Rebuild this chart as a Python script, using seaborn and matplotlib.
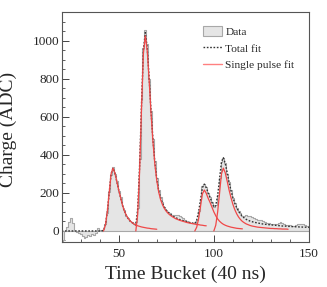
import numpy as np
import pandas as pd
import seaborn as sns
import matplotlib.pyplot as plt
from matplotlib.patches import Patch
from matplotlib.lines import Line2D
from matplotlib.ticker import MultipleLocator

# time buckets 20..150
buckets = list(range(20, 151))

charge = [
    -60, -45, 0, 20, 45, 67, 40, 0, -5, -10,            # 20-29
    -15, -25, -35, -30, -20, -25, -15, -20, -10, 15,     # 30-39
    5, 0, 8, 35, 95, 205, 295, 335, 300, 265,            # 40-49
    210, 178, 130, 108, 80, 68, 50, 46, 35, 45,          # 50-59
    120, 380, 690, 960, 1055, 980, 800, 630, 485, 370,   # 60-69
    280, 215, 178, 150, 128, 110, 100, 92, 85, 85,       # 70-79
    82, 84, 78, 72, 66, 58, 50, 47, 44, 42,              # 80-89
    40, 55, 105, 170, 235, 248, 230, 198, 180, 150,      # 90-99
    128, 135, 190, 280, 360, 385, 355, 300, 255, 215,    # 100-109
    172, 148, 122, 104, 92, 80, 80, 84, 80, 76,          # 110-119
    72, 68, 64, 60, 58, 56, 52, 48, 44, 40,              # 120-129
    38, 36, 34, 36, 44, 48, 44, 36, 32, 30,              # 130-139
    30, 28, 28, 30, 34, 36, 38, 36, 32, 28,              # 140-149
    26,                                                  # 150
]

total_fit = [
    0, 0, 0, 0, 0, 0, 0, 0, 0, 0,
    0, 0, 0, 0, 0, 0, 0, 0, 0, 0,
    0, 0, 3, 30, 100, 200, 300, 330, 305, 260,
    215, 175, 135, 105, 82, 65, 53, 44, 37, 31,
    117, 344, 671, 954, 1042, 960, 804, 627, 479, 360,
    274, 213, 173, 145, 125, 109, 98, 89, 81, 75,
    69, 65, 60, 57, 54, 51, 48, 45, 43, 41,
    39, 57, 101, 164, 228, 246, 228, 200, 177, 151,
    125, 134, 186, 273, 363, 385, 354, 307, 256, 212,
    175, 146, 122, 103, 88, 77, 68, 61, 56, 52,
    49, 46, 44, 42, 40, 38, 36, 35, 34, 33,
    32, 31, 30, 29, 28, 27, 26, 26, 25, 24,
    24, 23, 23, 22, 22, 21, 21, 20, 20, 19,
    19,
]

# single pulse fits (first bucket, values)
pulse1_start = 42
pulse1 = [0, 30, 100, 200, 300, 330, 305, 260, 215, 175, 135, 105, 82, 65,
          53, 44, 37, 31, 27, 24, 21, 19, 17, 15, 14, 12, 11, 10, 9]
pulse2_start = 59
pulse2 = [0, 90, 320, 650, 935, 1025, 945, 790, 615, 468, 350, 265, 205, 165,
          138, 118, 103, 92, 83, 76, 70, 64, 60, 56, 53, 50, 47, 44, 42, 40,
          38, 36, 34, 33, 31, 30, 28, 27]
pulse3_start = 90
pulse3 = [0, 20, 65, 130, 195, 215, 198, 172, 150, 125, 100, 80, 63, 51, 42,
          35, 30, 26, 23, 20, 18, 16, 14, 13, 12, 11]
pulse4_start = 100
pulse4 = [0, 30, 100, 200, 300, 330, 305, 262, 215, 175, 140, 112, 90, 73, 60,
          50, 43, 37, 33, 29, 26, 24, 22, 20, 19, 18, 17, 16, 15, 14, 13, 13,
          12, 12, 11, 11, 10, 10, 10, 9]

sns.set_style("white")
plt.rcParams['font.family'] = ['Liberation Serif', 'DejaVu Serif']

fig, ax = plt.subplots(figsize=(3.27, 2.87), dpi=100)
fig.subplots_adjust(left=62/327, right=309/327, bottom=1-242/287, top=1-12/287)

fill_c = '#e5e5e5'
edge_c = '#a8a8a8'
red_c = '#f04848'

df = pd.DataFrame({'bucket': buckets, 'charge': charge})
sns.histplot(data=df, x='bucket', weights='charge', binwidth=1, binrange=(19.5, 150.5),
             element='step', fill=True, color=fill_c, edgecolor=edge_c,
             linewidth=0.8, alpha=1, ax=ax)

sns.lineplot(x=buckets, y=total_fit, color='#333333', linestyle=(0, (1.2, 1.2)),
             linewidth=1.0, ax=ax)

for start, vals in [(pulse1_start, pulse1), (pulse2_start, pulse2),
                    (pulse3_start, pulse3), (pulse4_start, pulse4)]:
    xs = list(range(start, start + len(vals)))
    sns.lineplot(x=xs, y=vals, color=red_c, linewidth=0.9, ax=ax)

ax.set_xlim(20.2, 150)
ax.set_ylim(-58, 1150)
ax.xaxis.set_major_locator(MultipleLocator(50))
ax.xaxis.set_minor_locator(MultipleLocator(10))
ax.yaxis.set_major_locator(MultipleLocator(200))
ax.yaxis.set_minor_locator(MultipleLocator(50))
ax.tick_params(which='both', direction='in', color='#444444', labelsize=9.5,
               left=True, bottom=True, top=False, right=False)
ax.tick_params(which='major', length=5, width=0.7)
ax.tick_params(which='minor', length=2.5, width=0.6)
ax.tick_params(axis='x', pad=4)
ax.tick_params(axis='y', pad=2)
for sp in ax.spines.values():
    sp.set_color('#555555')
    sp.set_linewidth(0.8)

ax.set_xlabel('Time Bucket (40 ns)', fontsize=14)
ax.set_ylabel('Charge (ADC)', fontsize=14)
ax.xaxis.set_label_coords(0.498, -0.105)
ax.yaxis.set_label_coords(-0.182, 0.49)

handles = [Patch(facecolor=fill_c, edgecolor=edge_c, linewidth=0.8),
           Line2D([], [], color='#333333', linestyle=(0, (1.2, 1.2)), linewidth=1.0),
           Line2D([], [], color='#ff8080', linewidth=1.0)]
ax.legend(handles, ['Data', 'Total fit', 'Single pulse fit'], loc='upper left',
          bbox_to_anchor=(203/327, 1-26/287), bbox_transform=fig.transFigure,
          frameon=False, fontsize=8.2, borderpad=0, borderaxespad=0,
          handlelength=1.67, handleheight=1.0, handletextpad=0.3, labelspacing=0.5)

fig.savefig('out.png', dpi=100)
